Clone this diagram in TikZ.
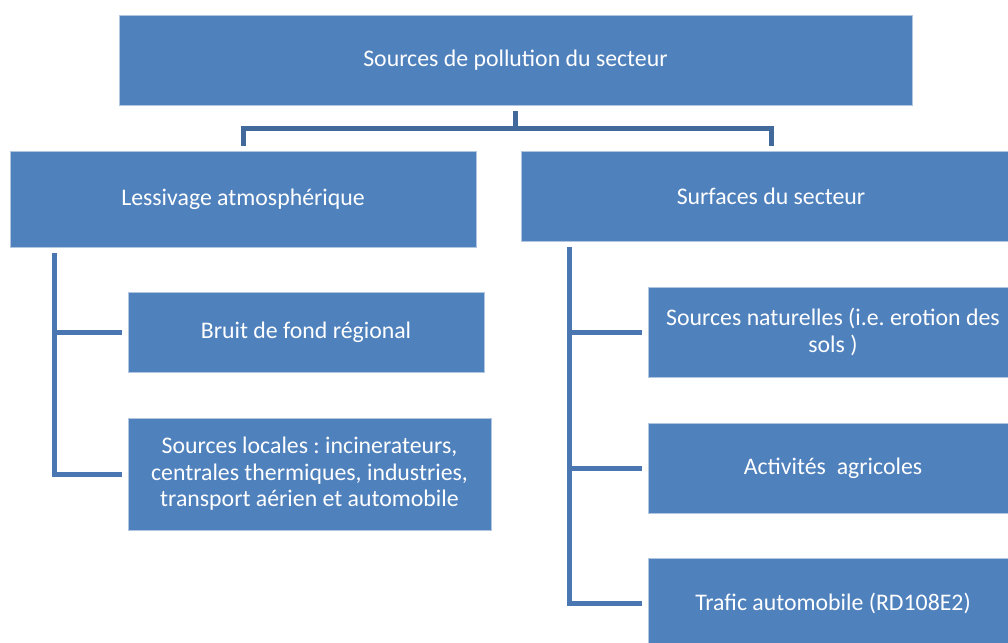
\documentclass[tikz,border=0pt]{standalone}
\usepackage{fontspec}
\setmainfont{Carlito}
\usepackage{xcolor}
\usetikzlibrary{calc,positioning}
\definecolor{boxblue}{HTML}{4F81BD}
\definecolor{linkdark}{HTML}{41699B}
\definecolor{linkblue}{HTML}{4A77B2}
\frenchspacing
\begin{document}
\begin{tikzpicture}[x=1pt,y=-1pt,
  box/.style={rectangle,fill=boxblue,draw=boxblue!45!white,line width=0.8pt,
    text=white,align=center,inner sep=0pt,
    font=\fontsize{23.8}{26.5}\selectfont},
  toplink/.style={draw=linkdark,line width=5pt},
  sublink/.style={draw=linkblue,line width=5pt}]
  \useasboundingbox (0,0) rectangle (1008,642);
  \clip (0,0) rectangle (1008,642);
  \node[box,minimum width=793pt,minimum height=90pt] (src) at (515.5,60)
    {Sources de pollution du secteur};
  \node[box,minimum width=466pt,minimum height=96pt] (less) at (243,199)
    {Lessivage atmosphérique};
  \node[box,minimum width=500pt,minimum height=90pt] (surf) at (771,196)
    {Surfaces du secteur};
  \node[box,minimum width=356pt,minimum height=80pt] (bruit) at (306,332)
    {Bruit de fond régional};
  \node[box,minimum width=363pt,minimum height=112pt] (loc) at (309.5,474)
    {Sources locales : incinerateurs,\\centrales thermiques, industries,\\transport aérien et automobile};
  \node[box,minimum width=370pt,minimum height=90pt] (nat) at (833,332)
    {Sources naturelles (i.e. erotion des\\sols )};
  \node[box,minimum width=370pt,minimum height=90pt] (agri) at (833,468)
    {Activités~~agricoles};
  \node[box,minimum width=370pt,minimum height=90pt] (traf) at (833,603)
    {Trafic automobile (RD108E2)};
  % top level
  \coordinate (hub) at ($(src.south)+(0,23)$);
  \draw[toplink] ([yshift=-6pt]src.south) -- (hub);
  \draw[toplink] (hub) -| ([yshift=5pt]less.north);
  \draw[toplink] (hub) -| ([yshift=5pt]surf.north);
  % left branch
  \coordinate (lb) at ([xshift=44.5pt,yshift=-6pt]less.south west);
  \draw[sublink] (lb) |- ([xshift=-6pt]loc.west);
  \draw[sublink] (lb |- bruit.west) -- ([xshift=-6pt]bruit.west);
  % right branch
  \coordinate (rb) at ([xshift=48.5pt,yshift=-6pt]surf.south west);
  \draw[sublink] (rb) |- ([xshift=-6pt]traf.west);
  \draw[sublink] (rb |- nat.west) -- ([xshift=-6pt]nat.west);
  \draw[sublink] (rb |- agri.west) -- ([xshift=-6pt]agri.west);
\end{tikzpicture}
\end{document}
